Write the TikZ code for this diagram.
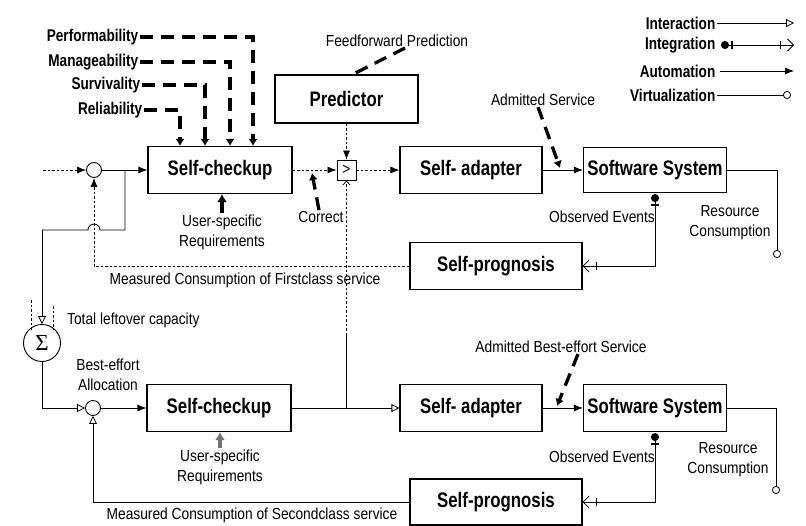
\documentclass[tikz,border=0pt]{standalone}
\usepackage{fontspec}
\setmainfont{Liberation Sans}
\newfontfamily\nar[FakeStretch=0.86]{Liberation Sans}
\newfontfamily\narb[FakeStretch=0.8]{Liberation Sans}
\newfontfamily\sigf{Liberation Serif}
\usetikzlibrary{arrows.meta}
\begin{document}
\begin{tikzpicture}[x=1pt,y=-1pt,
  box/.style={draw,line width=1.1pt,inner sep=0pt,minimum height=47pt,
    font=\narb\bfseries\fontsize{21}{24}\selectfont},
  qlab/.style={inner sep=1.5pt,font=\narb\bfseries\fontsize{17}{20}\selectfont},
  lab/.style={inner sep=1pt,align=center,font=\nar\fontsize{16}{20}\selectfont},
  sumc/.style={draw,circle,line width=0.9pt,minimum size=15pt,inner sep=0pt},
  thin/.style={line width=0.8pt},
  dotl/.style={line width=0.7pt,dash pattern=on 2.5pt off 2pt},
  autoa/.style={-{Latex[length=9pt,width=7pt]}},
  intera/.style={-{Triangle[open,length=8pt,width=8pt]}},
  intega/.style={{Circle[length=8pt,sep=1pt]Bar[width=8pt,sep=2pt]Bar[width=8pt]}-{Bar[width=8pt,sep=6pt]Straight Barb[length=6pt,width=12pt]}},
  virta/.style={-{Circle[open,length=8pt]}},
  qdash/.style={line width=3.3pt,dash pattern=on 13pt off 8pt,-{Latex[length=7pt,width=9pt]}},
  fdash/.style={line width=3.3pt,dash pattern=on 13pt off 8pt},
  usr/.style={line width=3.5pt,-{Latex[length=8pt,width=10pt]}}
]
\useasboundingbox (0,0) rectangle (806,525);

% ---------- boxes ----------
\node[box,minimum width=144pt] (sc1) at (220,170) {Self-checkup};
\node[box,minimum width=143pt,minimum height=48pt] (pred) at (346.5,99) {Predictor};
\node[draw,line width=0.9pt,minimum width=19pt,minimum height=20pt,inner sep=0pt,
      font=\nar\fontsize{16}{18}\selectfont] (cmp) at (346.5,170) {>};
\node[box,minimum width=142pt] (ad1) at (471,170) {Self- adapter};
\node[box,minimum width=143pt,minimum height=45pt] (sw1) at (655,170) {Software System};
\node[box,minimum width=172pt] (pg1) at (496,266) {Self-prognosis};
\node[sumc] (circ1) at (94,170) {};

\node[draw,circle,line width=0.9pt,minimum size=37pt,inner sep=0pt,
      font=\sigf\fontsize{23}{25}\selectfont] (sig) at (42,343) {Σ};

\node[sumc] (circ2) at (93,408) {};
\node[box,minimum width=144pt] (sc2) at (219,408) {Self-checkup};
\node[box,minimum width=142pt] (ad2) at (471,408) {Self- adapter};
\node[box,minimum width=143pt] (sw2) at (655,408) {Software System};
\node[box,minimum width=172pt,minimum height=46pt] (pg2) at (496,502) {Self-prognosis};

% ---------- quality attribute labels ----------
\node[qlab,anchor=east] (perf) at (140,37) {Performability};
\node[qlab,anchor=east] (mana) at (140,62) {Manageability};
\node[qlab,anchor=east] (surv) at (142,85) {Survivality};
\node[qlab,anchor=east] (reli) at (144,110) {Reliability};
\draw[qdash] (perf.east) -| ([xshift=33pt]sc1.north);
\draw[qdash] (mana.east) -| ([xshift=10pt]sc1.north);
\draw[qdash] (surv.east) -| ([xshift=-15pt]sc1.north);
\draw[qdash] (reli.east) -| ([xshift=-40pt]sc1.north);

% ---------- other labels ----------
\node[lab] (ff) at (397,41) {Feedforward Prediction};
\node[lab] (as) at (543,100) {Admitted Service};
\node[lab] (cor) at (321,217) {Correct};
\node[lab] (us1) at (222,232) {User-specific\\Requirements};
\node[lab] (oe1) at (602,217) {Observed Events};
\node[lab] (rc1l) at (730,223) {Resource\\Consumption};
\node[lab] (mc1) at (245,280) {Measured Consumption of Firstclass service};
\node[lab,anchor=west] (tlc) at (66,320) {Total leftover capacity};
\node[lab] (bea) at (108,375) {Best-effort\\Allocation};
\node[lab] (abs) at (561,347) {Admitted Best-effort Service};
\node[lab] (us2) at (220,467) {User-specific\\Requirements};
\node[lab] (oe2) at (602,457) {Observed Events};
\node[lab] (rc2l) at (728,460) {Resource\\Consumption};
\node[lab] (mc2) at (252,515) {Measured Consumption of Secondclass service};

% ---------- coordinates ----------
\coordinate (in1) at (43,170);
\coordinate (j1) at (125,170);
\coordinate (b1) at (125,230);
\coordinate (b2) at (100,230);
\coordinate (b3) at (42,230);
\coordinate (corT) at (312,173);
\coordinate (asT) at (560,168);
\coordinate (abT) at (557,406);
\coordinate (rc1) at (777,258);
\coordinate (rc2) at (776,494);
\coordinate (j2) at (346.5,408);
\coordinate (j2m) at (346.5,335);

% ---------- top row connectors ----------
\draw[dotl,autoa] (in1) -- (circ1.west);
\draw[thin,autoa] (circ1.east) -- (sc1.west);
\draw[dotl,autoa] (sc1.east) -- (cmp.west);
\draw[dotl,autoa] (cmp.east) -- (ad1.west);
\draw[dotl,autoa] (pred.south) -- (cmp.north);
\draw[thin,autoa] (ad1.east) -- (sw1.west);
\draw[thin,virta] (sw1.east) -| (rc1);
\draw[thin,intega] (sw1.south) |- (pg1.east);
\draw[dotl,autoa] (pg1.west) -| (circ1.south);
\draw[thin] (j1) -- (b1) -- (b2) arc[start angle=0,end angle=180,radius=6pt] -- (b3);
\draw[thin,intera] (b3) -- (sig.north);
\draw[dotl] (31,300) -- (31,330);
\draw[dotl] (53,306) -- (53,330);

\draw[fdash] ([xshift=8pt]ff.south) -- ([xshift=6pt]pred.north);
\draw[qdash] ([xshift=-5pt]as.south) -- (asT);
\draw[qdash] ([xshift=-2pt]cor.north) -- (corT);
\draw[usr] (us1.north) -- (us1.north |- sc1.south);

% ---------- bottom row connectors ----------
\draw[thin,intera] (sig.south) |- (circ2.west);
\draw[thin,autoa] (circ2.east) -- (sc2.west);
\draw[thin,intera] (sc2.east) -- (ad2.west);
\draw[thin] (j2) -- (j2m);
\draw[dotl,-{Straight Barb[length=4pt,width=7pt]}] (j2m) -- (cmp.south);
\draw[thin,autoa] (ad2.east) -- (sw2.west);
\draw[thin,virta] (sw2.east) -| (rc2);
\draw[thin,intega] (sw2.south) |- (pg2.east);
\draw[thin,intera] (pg2.west) -| (circ2.south);
\draw[qdash] ([xshift=17pt]abs.south) -- (abT);
\draw[usr,black!55] (us2.north) -- (us2.north |- sc2.south);

% ---------- legend ----------
\node[qlab,anchor=east] (lint) at (717,23) {Interaction};
\node[qlab,anchor=east] (lintg) at (717,45) {Integration};
\node[qlab,anchor=east] (laut) at (717,71) {Automation};
\node[qlab,anchor=east] (lvir) at (717,95) {Virtualization};
\coordinate (e1) at (794,23);
\coordinate (e2) at (794,45);
\coordinate (e3) at (794,71);
\coordinate (e4) at (791,95);
\draw[thin,intera] (lint.east) -- (e1);
\draw[thin,intega] ([xshift=3pt]lintg.east) -- (e2);
\draw[thin,autoa] ([xshift=3pt]laut.east) -- (e3);
\draw[thin,virta] (lvir.east) -- (e4);
\end{tikzpicture}
\end{document}
